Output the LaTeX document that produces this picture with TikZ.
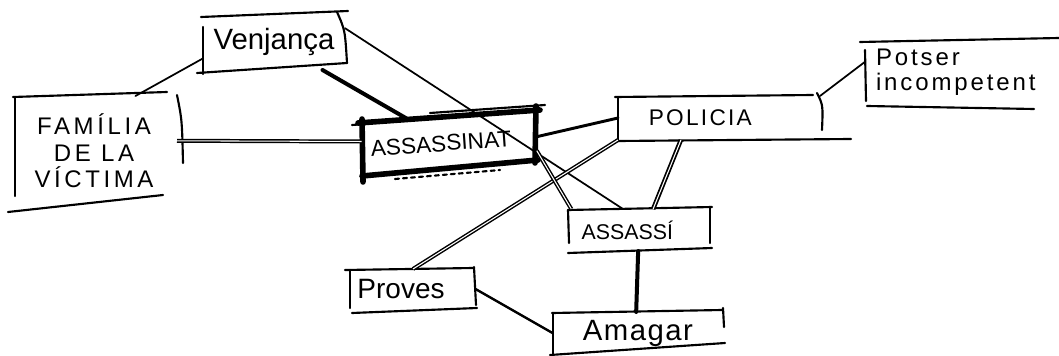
\documentclass[tikz,border=0pt]{standalone}
\usepackage{fontspec}
\setmainfont{Liberation Sans}
\begin{document}
\begin{tikzpicture}[x=0.75pt, y=-0.75pt,
  every node/.style={inner sep=0pt, outer sep=0pt},
  boxsize/.style 2 args={rectangle, minimum width=#1*0.75pt, minimum height=#2*0.75pt},
  pen/.style={line width=1.6pt, line cap=round},
  heavy/.style={line width=4.2pt, line cap=round},
  link/.style={line width=1.3pt, line cap=round},
  boldlink/.style={line width=3pt, line cap=round},
  twin/.style={double, line width=1.1pt, double distance=0.8pt}]
\useasboundingbox (0,0) rectangle (1059,356);

% topics (each node carries the geometry of its hand-drawn frame)
\node[boxsize={142}{56}, font=\fontsize{22}{26}\selectfont] (v) at (274,42) {Venjança};
\node[boxsize={166}{110}, align=center,
      font=\fontsize{18}{20}\selectfont\addfontfeature{LetterSpace=15}] (f) at (94,151)
      {FAMÍLIA\\DE LA\\VÍCTIMA};
\node[boxsize={174}{55}, rotate=4, font=\fontsize{17}{20}\selectfont] (a) at (449,143)
      {ASSASSINAT\hspace*{12pt}};
\node[boxsize={202}{44}, font=\fontsize{17}{20}\selectfont\addfontfeature{LetterSpace=10}] (p) at (719,118)
      {POLICIA\hspace*{28pt}};
\node[boxsize={194}{66}, align=left, text width=129pt,
      font=\fontsize{18}{19}\selectfont\addfontfeature{LetterSpace=12}] (pi) at (962,72)
      {Potser\\incompetent};
\node[boxsize={143}{42}, font=\fontsize{16}{19}\selectfont] (s) at (640,230)
      {ASSASSÍ\hspace*{19pt}};
\node[boxsize={125}{40}, font=\fontsize{21}{24}\selectfont] (pr) at (413,289)
      {Proves\hspace*{18pt}};
\node[boxsize={171}{42}, font=\fontsize{22}{26}\selectfont\addfontfeature{LetterSpace=5}] (am) at (638,333)
      {Amagar};

% hand-drawn frames
% Venjança
\draw[pen] (201,17) -- (348,11);
\draw[pen] (203,27) -- (203,74);
\draw[pen] (197,73) -- (347,63);
\draw[pen] (337,12) .. controls (345,30) .. (347,63);
% Família de la víctima
\draw[pen] (13,97) -- (167,92);
\draw[pen] (15,98) -- (15,196);
\draw[pen] (177,95) .. controls (182,120) .. (183,163);
\draw[pen] (8,212) -- (163,195);
% Assassinat (heavy frame)
\draw[heavy] (358,123) -- (540,110);
\draw[heavy] (362,119) -- (363,182);
\draw[heavy] (536,106) -- (535,163);
\draw[heavy] (362,176) -- (538,160);
\draw[pen] (352,125) -- (366,124);
\draw[pen] (430,113) -- (545,105);
\draw[pen, dashed] (395,179) -- (500,170);
% Policia
\draw[pen] (615,97) -- (813,95);
\draw[pen] (618,98) -- (618,140);
\draw[pen] (817,93) .. controls (823,105) .. (822,130);
\draw[pen] (618,141) -- (851,139);
% Potser incompetent
\draw[pen] (860,42) -- (1059,38);
\draw[pen] (865,50) -- (866,101);
\draw[pen] (867,106) -- (1034,109);
% Assassí
\draw[pen] (568,210) -- (712,207);
\draw[pen] (568,210) -- (569,243);
\draw[pen] (710,207) -- (710,243);
\draw[pen] (568,253) -- (712,248);
% Proves
\draw[pen] (345,270) -- (473,268);
\draw[pen] (350,270) -- (350,308);
\draw[pen] (474,267) -- (476,305);
\draw[pen] (352,313) -- (477,308);
% Amagar
\draw[pen] (552,313) -- (722,310);
\draw[pen] (553,313) -- (553,355);
\draw[pen] (723,308) -- (724,327);
\draw[pen] (550,355) -- (725,343);

% connectors
\draw[link] (v.193) -- (f.53);
\draw[boldlink] (v) -- (a);
\draw[link] (v.11) -- (s.129);
\draw[twin] (f.7) -- (a.175);
\draw[boldlink, line width=2.2pt] (a.east) -- (p.west);
\draw[twin] (p.south west) -- (pr.north);
\draw[twin, line width=1.3pt] (p.210) -- (s.58);
\draw[link] (p.north east) -- (pi.174);
\draw[boldlink] (s.265) -- (am.95);
\draw[link, line width=1.8pt] (pr.east) -- (am.west);
\draw[twin] (a.-9) -- (s.163);
\end{tikzpicture}
\end{document}
